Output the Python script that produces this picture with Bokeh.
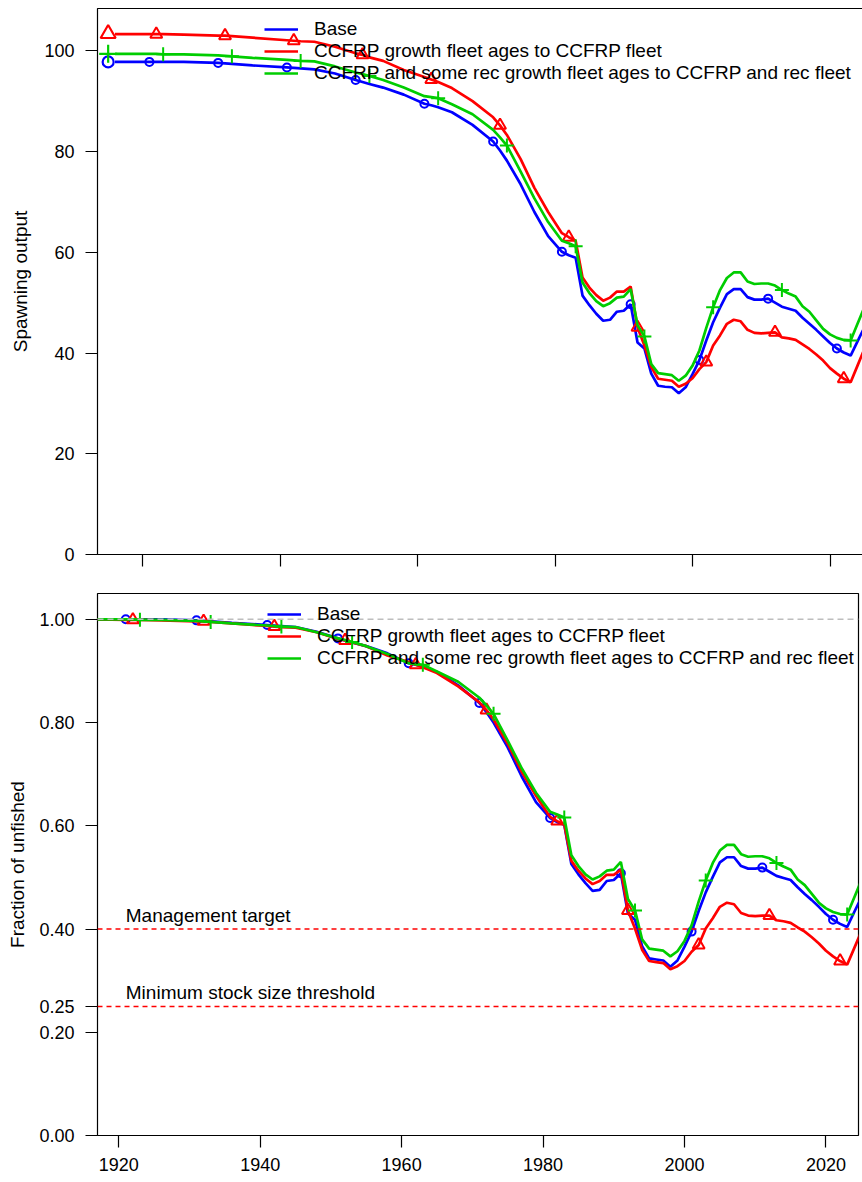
from bokeh.plotting import figure
from bokeh.layouts import column
from bokeh.models import (FixedTicker, NumeralTickFormatter, Legend, LegendItem,
                          Span, Label, Range1d)
from bokeh.embed import file_html
from bokeh.resources import INLINE

# ---------------------------------------------------------------- data
years = [1916, 1921, 1922, 1923, 1926, 1931, 1932, 1933, 1936, 1941, 1942, 1943,
         1945, 1948, 1951, 1952, 1953, 1955, 1958, 1961, 1962, 1963, 1965, 1968,
         1971, 1972, 1973, 1975, 1977, 1979, 1981, 1982, 1983, 1984, 1985, 1986,
         1987, 1988, 1989, 1990, 1991, 1992, 1993, 1994, 1995, 1996, 1997, 1998,
         1999, 2000, 2001, 2002, 2003, 2004, 2005, 2006, 2007, 2008, 2009, 2010,
         2011, 2012, 2013, 2014, 2015, 2016, 2017, 2018, 2019, 2020, 2021, 2022,
         2023, 2024, 2025]

# spawning output
base_sb = [97.8, 97.8, 97.8, 97.8, 97.8, 97.6, 97.5, 97.4, 97.1, 96.7, 96.6, 96.5,
           96.3, 95.5, 94.2, 93.8, 93.4, 92.7, 91.3, 89.5, 89.2, 88.8, 87.8, 85.3,
           82.0, 80.2, 78.2, 73.5, 68.0, 63.2, 60.1, 59.4, 58.9, 51.4, 49.5, 47.8,
           46.4, 46.6, 48.2, 48.4, 49.7, 42.1, 40.9, 35.9, 33.5, 33.3, 33.2, 32.0,
           33.2, 35.8, 38.6, 42.5, 46.1, 49.0, 51.7, 52.7, 52.7, 51.1, 50.6, 50.6,
           50.8, 50.0, 49.2, 48.8, 48.4, 47.0, 45.8, 44.6, 43.3, 42.0, 40.9, 40.1,
           39.5, 42.3, 45.1]
ccfrp_sb = [103.3, 103.3, 103.3, 103.3, 103.2, 103.0, 103.0, 102.9, 102.6, 102.1, 102.0, 101.9,
            101.8, 100.8, 99.5, 99.2, 98.7, 98.0, 96.2, 94.8, 94.3, 93.8, 92.6, 90.0,
            86.8, 85.2, 83.3, 78.5, 72.8, 68.0, 63.8, 63.0, 62.3, 55.0, 53.0, 51.5,
            50.4, 51.0, 52.2, 52.2, 53.2, 45.1, 41.5, 37.2, 34.9, 34.7, 34.5, 33.3,
            33.9, 35.0, 36.8, 38.2, 41.5, 43.5, 45.8, 46.6, 46.3, 44.6, 44.0, 43.9,
            44.0, 44.1, 43.1, 42.9, 42.6, 41.7, 40.8, 39.7, 38.5, 37.0, 35.9, 34.9,
            34.2, 37.5, 40.8]
ccfrp_rec_sb = [99.4, 99.4, 99.4, 99.3, 99.3, 99.1, 99.0, 98.9, 98.6, 98.2, 98.1, 98.0,
                97.9, 96.9, 95.7, 95.4, 95.0, 94.2, 92.7, 91.0, 90.8, 90.6, 89.4, 87.4,
                84.3, 82.8, 81.2, 76.0, 70.7, 66.0, 62.3, 61.8, 61.2, 54.0, 51.9, 50.3,
                49.3, 49.9, 51.0, 51.2, 52.7, 45.5, 43.3, 37.8, 36.0, 35.8, 35.6, 34.5,
                35.5, 37.5, 40.5, 45.0, 49.1, 52.5, 54.9, 56.0, 56.0, 54.2, 53.7, 53.8,
                53.8, 53.4, 52.5, 51.8, 51.2, 49.3, 48.2, 46.5, 44.8, 43.7, 43.0, 42.6,
                42.5, 45.8, 49.1]

# unfished equilibrium spawning output
virgin_year = 1915
virgin_sb = [97.8, 103.4, 99.4]

# fraction of unfished
base_frac = [1.000, 1.000, 1.000, 1.000, 1.000, 0.998, 0.997, 0.996, 0.993, 0.989, 0.988, 0.987,
             0.985, 0.976, 0.963, 0.959, 0.955, 0.948, 0.934, 0.915, 0.912, 0.908, 0.898, 0.872,
             0.838, 0.820, 0.800, 0.752, 0.695, 0.646, 0.615, 0.607, 0.602, 0.526, 0.506, 0.489,
             0.474, 0.476, 0.493, 0.495, 0.508, 0.430, 0.418, 0.367, 0.343, 0.341, 0.339, 0.327,
             0.339, 0.366, 0.395, 0.435, 0.471, 0.501, 0.529, 0.539, 0.539, 0.522, 0.517, 0.517,
             0.519, 0.511, 0.503, 0.499, 0.495, 0.481, 0.468, 0.456, 0.443, 0.429, 0.418, 0.410,
             0.404, 0.433, 0.461]
ccfrp_frac = [1.000, 0.999, 0.999, 0.999, 0.998, 0.996, 0.996, 0.995, 0.992, 0.987, 0.986, 0.985,
              0.984, 0.975, 0.962, 0.959, 0.955, 0.948, 0.930, 0.917, 0.912, 0.907, 0.896, 0.870,
              0.839, 0.824, 0.806, 0.759, 0.704, 0.658, 0.617, 0.609, 0.603, 0.532, 0.513, 0.498,
              0.487, 0.493, 0.505, 0.505, 0.515, 0.436, 0.401, 0.360, 0.338, 0.336, 0.334, 0.322,
              0.328, 0.338, 0.356, 0.369, 0.401, 0.421, 0.443, 0.451, 0.448, 0.431, 0.426, 0.425,
              0.426, 0.426, 0.417, 0.415, 0.412, 0.403, 0.395, 0.384, 0.372, 0.358, 0.347, 0.338,
              0.331, 0.363, 0.395]
ccfrp_rec_frac = [1.000, 1.000, 1.000, 0.999, 0.999, 0.997, 0.996, 0.995, 0.992, 0.988, 0.987, 0.986,
                  0.985, 0.975, 0.963, 0.960, 0.956, 0.948, 0.933, 0.915, 0.913, 0.912, 0.899, 0.879,
                  0.848, 0.833, 0.817, 0.765, 0.711, 0.664, 0.627, 0.622, 0.616, 0.543, 0.522, 0.506,
                  0.496, 0.502, 0.513, 0.515, 0.530, 0.458, 0.436, 0.380, 0.362, 0.360, 0.358, 0.347,
                  0.357, 0.377, 0.407, 0.453, 0.494, 0.528, 0.552, 0.563, 0.563, 0.545, 0.540, 0.541,
                  0.541, 0.537, 0.528, 0.521, 0.515, 0.496, 0.485, 0.468, 0.451, 0.440, 0.433, 0.429,
                  0.428, 0.461, 0.494]

model_names = ["Base",
               "CCFRP growth fleet ages to CCFRP fleet",
               "CCFRP and some rec growth fleet ages to CCFRP and rec fleet"]
model_colors = ["#0000FF", "#FF0000", "#00CD00"]
model_markers = ["circle", "triangle", "cross"]
marker_years = [
    [1921, 1931, 1941, 1951, 1961, 1971, 1981, 1991, 2001, 2011, 2021],
    [1922, 1932, 1942, 1952, 1962, 1972, 1982, 1992, 2002, 2012, 2022],
    [1923, 1933, 1943, 1953, 1963, 1973, 1983, 1993, 2003, 2013, 2023],
]

x_ticks = [1920, 1940, 1960, 1980, 2000, 2020]
sb_ticks = [0, 20, 40, 60, 80, 100]
frac_ticks = [0.0, 0.2, 0.25, 0.4, 0.6, 0.8, 1.0]
ref_levels = [0.4, 0.25]
ref_labels = ["Management target", "Minimum stock size threshold"]

FONT = "Liberation Sans"
LINE_W = 2.7
MARK_SIZE = {"circle": 8, "triangle": 12, "cross": 14}
VIRGIN_SIZE = {"circle": 11, "triangle": 15, "cross": 18}


def style_axes(p):
    p.outline_line_color = "black"
    p.outline_line_width = 1.2
    p.background_fill_color = "white"
    p.border_fill_color = "white"
    p.xgrid.grid_line_color = None
    p.ygrid.grid_line_color = None
    for ax in p.axis:
        ax.axis_line_color = None
        ax.major_tick_in = 0
        ax.major_tick_out = 12
        ax.major_tick_line_color = "black"
        ax.major_tick_line_width = 1.2
        ax.minor_tick_line_color = None
        ax.major_label_text_font = FONT
        ax.major_label_text_font_size = "18px"
        ax.major_label_text_color = "black"
        ax.axis_label_text_font = FONT
        ax.axis_label_text_font_size = "19px"
        ax.axis_label_text_font_style = "normal"
        ax.axis_label_text_color = "black"


def add_legend(p, renderers, loc):
    leg = Legend(items=[LegendItem(label=n, renderers=[r]) for n, r in zip(model_names, renderers)],
                 location=loc)
    leg.background_fill_alpha = 0
    leg.border_line_color = None
    leg.label_text_font = FONT
    leg.label_text_font_size = "19px"
    leg.label_text_color = "black"
    leg.glyph_width = 34
    leg.glyph_height = 20
    leg.label_height = 20
    leg.label_standoff = 16
    leg.padding = 0
    leg.spacing = -2
    leg.margin = 0
    p.add_layout(leg)


def draw_series(p, series, with_virgin):
    renderers = []
    for i, vals in enumerate(series):
        c = model_colors[i]
        m = model_markers[i]
        r = p.line(years, vals, line_color=c, line_width=LINE_W)
        renderers.append(r)
        lookup = dict(zip(years, vals))
        mx = [y for y in marker_years[i] if y in lookup]
        my = [lookup[y] for y in mx]
        p.scatter(mx, my, marker=m, size=MARK_SIZE[m], line_color=c, fill_color=None,
                  line_width=2)
        if with_virgin:
            p.scatter([virgin_year], [virgin_sb[i]], marker=m, size=VIRGIN_SIZE[m],
                      line_color=c, fill_color=None, line_width=2.2)
    return renderers


# ---------------------------------------------------------------- spawning output
top = figure(frame_width=766, frame_height=546, min_border_left=95, min_border_right=1,
             min_border_top=8, min_border_bottom=21,
             x_range=Range1d(1913.45, 2024.87), y_range=Range1d(0, 108.4),
             output_backend="svg", toolbar_location=None)
style_axes(top)
top.yaxis.ticker = FixedTicker(ticks=sb_ticks)
top.xaxis.ticker = FixedTicker(ticks=x_ticks)
top.xaxis.major_label_overrides = {t: "" for t in x_ticks}
top.xaxis.major_label_text_font_size = "0px"
top.xaxis.major_label_standoff = 0
top.yaxis.major_label_standoff = 11
top.yaxis.axis_label = "Spawning output"
top.yaxis.axis_label_standoff = 10

top_renderers = draw_series(top, [base_sb, ccfrp_sb, ccfrp_rec_sb], True)
add_legend(top, top_renderers, (172, 470))

# ---------------------------------------------------------------- fraction of unfished
bot = figure(frame_width=761, frame_height=542, min_border_left=97, min_border_right=4,
             min_border_top=18, min_border_bottom=47,
             x_range=Range1d(1917.0, 2024.6), y_range=Range1d(0, 1.05),
             output_backend="svg", toolbar_location=None)
style_axes(bot)
bot.yaxis.ticker = FixedTicker(ticks=frac_ticks)
bot.yaxis.formatter = NumeralTickFormatter(format="0.00")
bot.xaxis.ticker = FixedTicker(ticks=x_ticks)
bot.xaxis.major_label_standoff = 10
bot.yaxis.major_label_standoff = 11
bot.yaxis.axis_label = "Fraction of unfished"
bot.yaxis.axis_label_standoff = 8

bot.add_layout(Span(location=1.0, dimension="width", line_color="#BEBEBE",
                    line_dash="6 4", line_width=1.5))
for lev, txt in zip(ref_levels, ref_labels):
    bot.add_layout(Span(location=lev, dimension="width", line_color="#FF0000",
                        line_dash="5 4", line_width=1.5))
    bot.add_layout(Label(x=1921.0, y=lev, text=txt, y_offset=14, text_baseline="alphabetic",
                         text_font=FONT, text_font_size="19px", text_color="black"))

bot_renderers = draw_series(bot, [base_frac, ccfrp_frac, ccfrp_rec_frac], False)
add_legend(bot, bot_renderers, (170, 466))

layout = column(top, bot, spacing=0)
open("out.html", "w").write(file_html(layout, INLINE, title="Spawning output comparison"))
